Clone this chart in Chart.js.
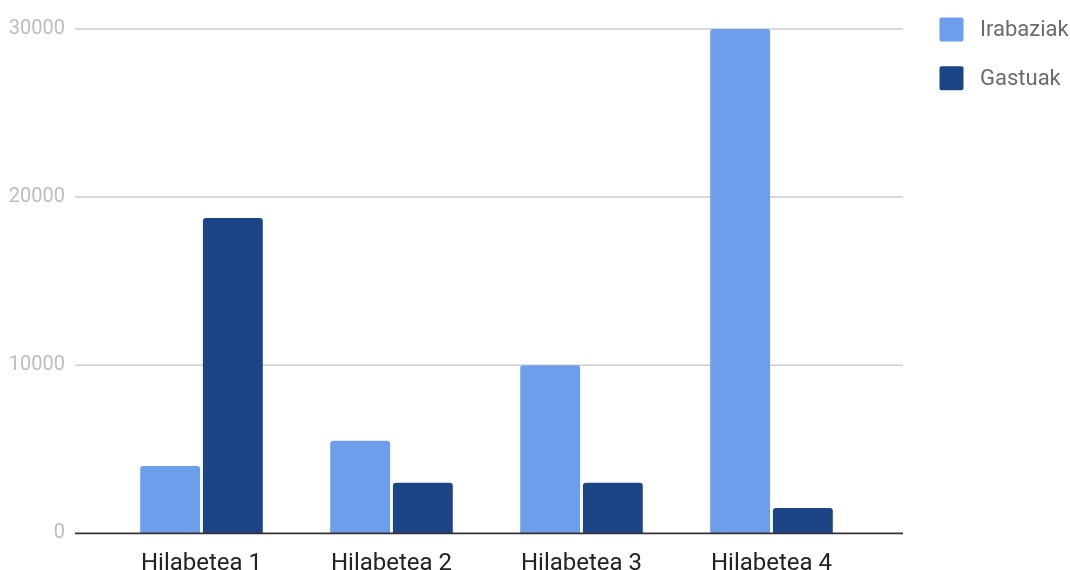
<!DOCTYPE html>
<html>
<head>
<meta charset="utf-8">
<script src="https://cdn.jsdelivr.net/npm/chart.js@4/dist/chart.umd.min.js"></script>
<style>
  html, body { margin: 0; padding: 0; background: #fff; }
  #wrap { width: 1070px; height: 570px; position: relative; }
</style>
</head>
<body>
<div id="wrap"><canvas id="c" width="1070" height="570"></canvas></div>
<script>
const categories = ['Hilabetea 1', 'Hilabetea 2', 'Hilabetea 3', 'Hilabetea 4'];
const seriesNames = ['Irabaziak', 'Gastuak'];
const irabaziak = [4000, 5500, 10000, 30000];
const gastuak = [18750, 3000, 3000, 1500];
const yTicks = [0, 10000, 20000, 30000];

const colors = ['#6d9eeb', '#1c4587'];

const gridPlugin = {
  id: 'extGrid',
  beforeDatasetsDraw(chart) {
    const { ctx, chartArea, scales } = chart;
    const y = scales.y;
    ctx.save();
    ctx.strokeStyle = '#cccccc';
    ctx.lineWidth = 1.5;
    yTicks.forEach(v => {
      if (v === 0) return;
      const py = y.getPixelForValue(v);
      ctx.beginPath();
      ctx.moveTo(chartArea.left - 31.5, py);
      ctx.lineTo(chartArea.right + 36.5, py);
      ctx.stroke();
    });
    ctx.restore();
  },
  afterDatasetsDraw(chart) {
    const { ctx, chartArea, scales } = chart;
    const py = scales.y.getPixelForValue(0);
    ctx.save();
    ctx.strokeStyle = '#333333';
    ctx.lineWidth = 1.8;
    ctx.beginPath();
    ctx.moveTo(chartArea.left - 31.5, py);
    ctx.lineTo(chartArea.right + 36.5, py);
    ctx.stroke();
    ctx.restore();
  }
};

const legendPlugin = {
  id: 'customLegend',
  afterDraw(chart) {
    const { ctx } = chart;
    ctx.save();
    chart.data.datasets.forEach((ds, i) => {
      const bx = 939.5, by = 17.5 + i * 48.7, s = 24;
      ctx.fillStyle = ds.backgroundColor;
      ctx.beginPath();
      if (ctx.roundRect) ctx.roundRect(bx, by, s, s, 2); else ctx.rect(bx, by, s, s);
      ctx.fill();
      ctx.fillStyle = '#6b6b6b';
      ctx.font = '22px Roboto';
      ctx.textBaseline = 'middle';
      ctx.textAlign = 'left';
      ctx.fillText(ds.label, 980, by + s / 2 + 1);
    });
    ctx.restore();
  }
};

new Chart(document.getElementById('c'), {
  type: 'bar',
  data: {
    labels: categories,
    datasets: [
      { label: seriesNames[0], data: irabaziak, backgroundColor: colors[0] },
      { label: seriesNames[1], data: gastuak, backgroundColor: colors[1] }
    ]
  },
  options: {
    responsive: false,
    animation: false,
    devicePixelRatio: 1,
    layout: { padding: { left: 0, top: 29, right: 203.5, bottom: 0 } },
    datasets: {
      bar: {
        categoryPercentage: 0.66,
        barPercentage: 0.955,
        borderRadius: { topLeft: 3, topRight: 3, bottomLeft: 0, bottomRight: 0 },
        borderSkipped: 'start'
      }
    },
    plugins: {
      legend: { display: false },
      tooltip: { enabled: false }
    },
    scales: {
      x: {
        grid: { display: false, drawTicks: false },
        border: { display: false },
        ticks: {
          color: '#222222',
          font: { family: 'Roboto', size: 24 },
          padding: 16,
          maxRotation: 0
        },
        afterFit(scale) { scale.height = 36.7; }
      },
      y: {
        min: 0,
        max: 30000,
        afterBuildTicks(scale) { scale.ticks = yTicks.map(v => ({ value: v })); },
        grid: { display: false, drawTicks: false },
        border: { display: false },
        ticks: {
          color: '#bdbdbd',
          font: { family: 'Roboto', size: 20 },
          padding: 41.5,
          callback: v => String(v)
        },
        afterFit(scale) {
          scale.width = 106.5;
          scale.paddingTop = 0;
          scale.paddingBottom = 0;
        }
      }
    }
  },
  plugins: [gridPlugin, legendPlugin]
});
</script>
</body>
</html>
